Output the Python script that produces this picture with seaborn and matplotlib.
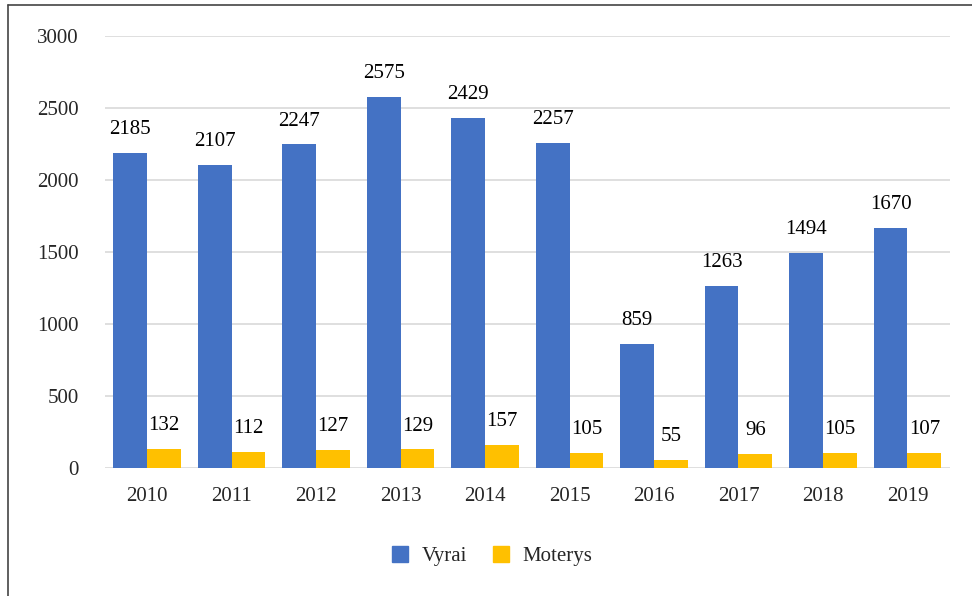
import pandas as pd
import matplotlib.pyplot as plt
import seaborn as sns
from matplotlib.lines import Line2D

# Duomenys
metai = ['2010', '2011', '2012', '2013', '2014', '2015', '2016', '2017', '2018', '2019']
vyrai = [2185, 2107, 2247, 2575, 2429, 2257, 859, 1263, 1494, 1670]
moterys = [132, 112, 127, 129, 157, 105, 55, 96, 105, 107]

df = pd.DataFrame({
    'Metai': metai * 2,
    'Reikšmė': vyrai + moterys,
    'Lytis': ['Vyrai'] * len(metai) + ['Moterys'] * len(metai),
})

sns.set_style('white')
plt.rcParams['font.family'] = ['Liberation Serif', 'DejaVu Serif']

fig = plt.figure(figsize=(9.72, 5.96), dpi=100)
ax = fig.add_axes([0.108, 0.2148, 0.869, 0.7248])

spalvos = {'Vyrai': '#4472C4', 'Moterys': '#FFC000'}
sns.barplot(data=df, x='Metai', y='Reikšmė', hue='Lytis', palette=spalvos,
            width=0.8, saturation=1, linewidth=0, ax=ax, legend=False)

for c in ax.containers:
    ax.bar_label(c, padding=10, fontsize=15, color='#000000')

ax.set_ylim(0, 3000)
ax.set_yticks(range(0, 3001, 500))
ax.yaxis.grid(True, color='#D9D9D9', linewidth=1.2)
ax.set_axisbelow(True)
for s in ax.spines.values():
    s.set_visible(False)
ax.tick_params(axis='both', length=0, labelsize=15)
ax.tick_params(axis='x', pad=14)
ax.tick_params(axis='y', pad=19)
ax.set_xlabel('')
ax.set_ylabel('')

handles = [Line2D([], [], marker='s', linestyle='', markersize=12,
                  color=spalvos[k]) for k in ['Vyrai', 'Moterys']]
fig.legend(handles, ['Vyrai', 'Moterys'], loc='center', bbox_to_anchor=(0.5, 0.066),
           ncol=2, frameon=False, fontsize=15, handletextpad=0.05, columnspacing=0.6)

# rėmelis
fig.add_artist(Line2D([8 / 972, 8 / 972], [0, 1 - 5 / 596], color='#444444', linewidth=1.2))
fig.add_artist(Line2D([8 / 972, 1], [1 - 5 / 596, 1 - 5 / 596], color='#444444', linewidth=1.2))

fig.savefig('out.png', dpi=100)
